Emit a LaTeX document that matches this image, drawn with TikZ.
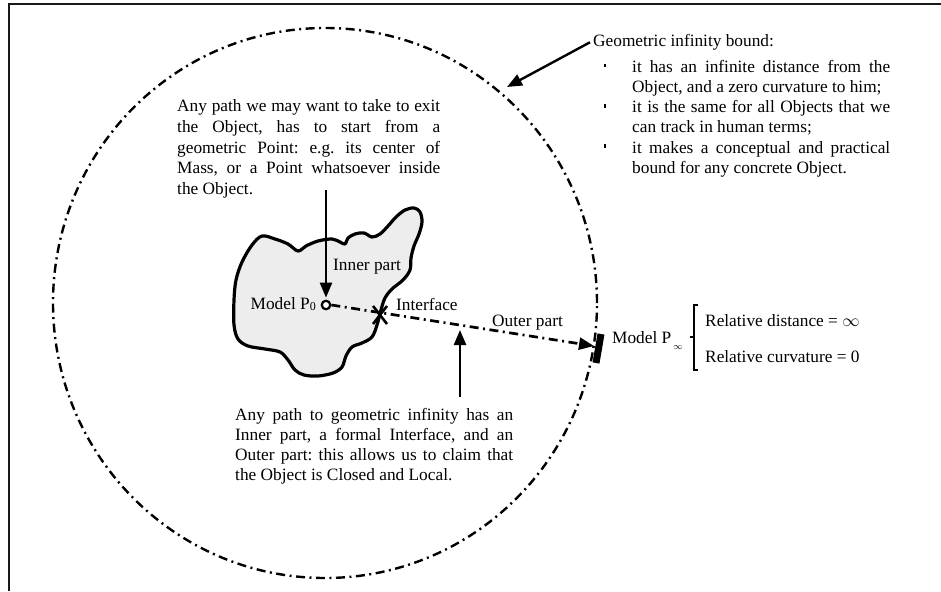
\documentclass[tikz,border=0pt]{standalone}
\usepackage{fontspec}
\setmainfont{Liberation Serif}
\usetikzlibrary{arrows.meta}
\frenchspacing
\begin{document}
\begin{tikzpicture}[x=1pt,y=-1pt,
  txt/.style={font=\fontsize{17.3}{20.3}\selectfont, inner sep=0pt, text=black},
  dashdot/.style={line width=2.4pt, dash pattern=on 9pt off 4.5pt on 2pt off 4.5pt},
  pointer/.style={line width=2.4pt, -{Triangle[length=15pt,width=12pt]}},
]
\useasboundingbox (0,0) rectangle (941,591);

% page frame
\draw[line width=2.8pt, black!90] (9,591) -- (9,4) -- (941,4);

% geometric infinity bound
\draw[dashdot] (325,303) ellipse [x radius=272pt, y radius=275pt];

% the Object
\draw[line width=3.2pt, fill=black!7, line join=round]
  plot[smooth cycle, tension=0.55] coordinates {
  (262,236) (275,239) (288,244) (298,251) (306,246) (318,241) (332,239)
  (340,242) (345,244) (348,238) (355,234) (364,233) (372,237) (380,234)
  (388,226) (396,217) (405,210) (414,208) (420,212) (422,222) (419,234)
  (414,246) (411,258) (410,270) (403,280) (392,289) (385,298) (381,310)
  (377,325) (372,337) (362,343) (352,347) (346,356) (342,367) (333,373)
  (318,376) (304,375) (295,370) (288,360) (280,352) (265,349) (248,346)
  (238,339) (234,325) (234,300) (236,280) (242,262) (252,245)};

% points of the path
\node[circle, draw, line width=2.2pt, fill=white, minimum size=8.5pt, inner sep=0pt] (p0) at (326,305) {};
\coordinate (xpt) at (380,315);
\coordinate (pinf) at (594,346);
\coordinate (pinftop) at (601,334);
\coordinate (pinfbot) at (596,363);

% path from P0 to infinity
\draw[dashdot, line width=2.7pt, -{Triangle[length=15pt,width=12pt]}] (p0.east) -- (pinf);
\draw[line width=2.6pt] ([shift={(-7,-9)}]xpt) -- ([shift={(7,9)}]xpt);
\draw[line width=2.6pt] ([shift={(7,-9)}]xpt) -- ([shift={(-7,9)}]xpt);
\draw[line width=7pt] (pinftop) -- (pinfbot);

% labels
\node[txt, anchor=base west] (inner) at (333,270) {Inner part};
\node[txt, anchor=base east] (p0label) at (316,309) {Model P\raisebox{-1.5pt}{\fontsize{12}{12}\selectfont 0}};
\node[txt, anchor=base west] (iface) at (396,310) {Interface};
\node[txt, anchor=base west] (outer) at (492,326) {Outer part};
\node[txt, anchor=base west] (pinflabel) at (612,343) {Model P\hspace{2pt}\raisebox{-6pt}{\fontsize{9}{9}\selectfont$\infty$}};

% brace and relative values
\draw[line width=1.6pt] (698,305) -- (694,305) -- (694,370) -- (698,370);
\draw[line width=1.6pt] (694,337) -- (690,337);
\node[txt, anchor=base west] (rd) at (705,326) {Relative distance = $\infty$};
\node[txt, anchor=base west] (rc) at (705,362) {Relative curvature = 0};

% note on the bound
\node[txt, anchor=base west] (bound) at (593,46.5) {Geometric infinity bound:};
\node[txt, anchor=base west] (props) at (632,72.7) {\fontsize{17.3}{20.1}\selectfont\parbox[t]{258pt}{%
  \makebox[258pt][s]{it has an infinite distance from the}\\
  Object, and a zero curvature to him;\\
  \makebox[258pt][s]{it is the same for all Objects that we}\\
  can track in human terms;\\
  \makebox[258pt][s]{it makes a conceptual and practical}\\
  bound for any concrete Object.}};
\fill (604.3,64) rectangle (606.2,67.5);
\fill (604.3,104.2) rectangle (606.2,107.7);
\fill (604.3,144.4) rectangle (606.2,147.9);
\coordinate (boundtip) at (507,87);
\draw[pointer] ([xshift=-3pt]bound.west) -- (boundtip);

% note on the start point
\node[txt, anchor=base west] (startnote) at (177,112) {\fontsize{17.3}{20.5}\selectfont\parbox[t]{263pt}{%
  \makebox[263pt][s]{Any path we may want to take to exit}\\
  \makebox[263pt][s]{the Object, has to start from a}\\
  \makebox[263pt][s]{geometric Point: e.g. its center of}\\
  \makebox[263pt][s]{Mass, or a Point whatsoever inside}\\
  the Object.}};
\coordinate (topstart) at (326,190);
\draw[pointer, shorten >=2pt] (topstart) -- (p0.north);

% note on the parts of the path
\node[txt, anchor=base west] (pathnote) at (235,420) {\fontsize{17.3}{20.3}\selectfont\parbox[t]{278pt}{%
  \makebox[278pt][s]{Any path to geometric infinity has an}\\
  \makebox[278pt][s]{Inner part, a formal Interface, and an}\\
  \makebox[278pt][s]{Outer part: this allows us to claim that}\\
  the Object is Closed and Local.}};
\coordinate (botstart) at (460,397);
\coordinate (bottip) at (460,330);
\draw[pointer] (botstart) -- (bottip);
\end{tikzpicture}
\end{document}
